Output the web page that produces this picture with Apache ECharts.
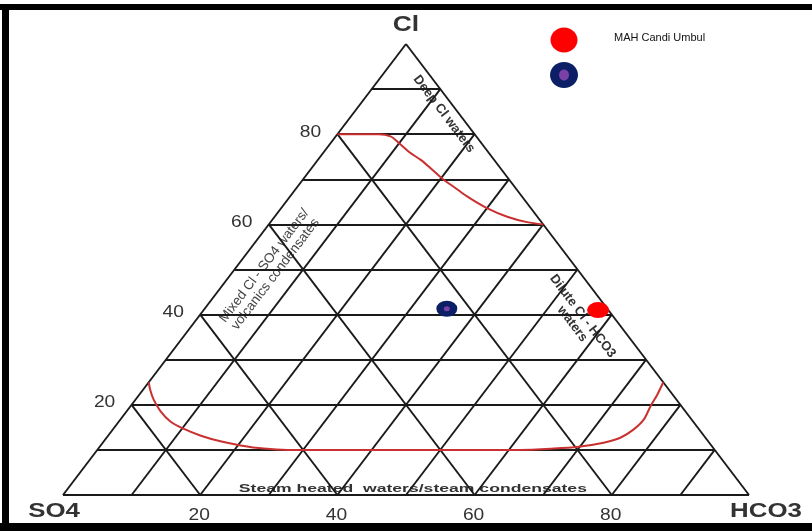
<!DOCTYPE html>
<html>
<head>
<meta charset="utf-8">
<title>Cl - SO4 - HCO3</title>
<style>
  html, body { margin: 0; padding: 0; background: #fff; }
  #main { width: 812px; height: 531px; }
</style>
</head>
<body>
<div id="main"></div>
<script src="https://cdn.jsdelivr.net/npm/echarts@6/dist/echarts.min.js"></script>
<script type="text/javascript">
// ternary grid levels (percent)
var clLevels = [10, 20, 30, 40, 50, 60, 70, 80, 90];
var hco3Levels = [10, 20, 30, 40, 50, 60, 70, 80, 90];
var so4Levels = [20, 40, 60, 80];
var leftTicks = [20, 40, 60, 80];
var baseTicks = [20, 40, 60, 80];

// boundary curves, [Cl, HCO3] in percent (SO4 = rest)
var deepClCurve = [[80, 0], [80, 6], [79.5, 8], [78, 10], [76, 12.5], [74.3, 15], [72.5, 17.3],
  [70, 20.4], [68.4, 22.7], [66.2, 25.8], [63.6, 30], [61.7, 33.9], [60.5, 37.4], [60, 40]];
var steamCurve = [[25, 0], [23.4, 1], [21.2, 2.6], [18.6, 4.9], [16.3, 7.5], [14.7, 10.2],
  [13.2, 13.4], [11.9, 17], [11, 20.4], [10.3, 24.1], [10, 27.7], [10, 30], [10, 40], [10, 50],
  [10, 61.5], [10.3, 66.4], [10.7, 69.8], [11.6, 73], [12.7, 74.9], [14.5, 75.9], [16.7, 76.3],
  [19.7, 75.8], [22.3, 75.5], [25, 75]];

// samples
var sampleNames = ['MAH Candi Umbul', ''];
var sampleCl = [41, 41.3];
var sampleHCO3 = [57.5, 35.3];
var sampleSO4 = [1.5, 23.4];

// ternary -> cartesian (x: HCO3 + Cl/2, y: Cl)
function tern(cl, hco3) {
  return [(hco3 + cl / 2) / 100, cl / 100];
}
function sample(i) {
  var t = sampleCl[i] + sampleHCO3[i] + sampleSO4[i];
  return tern(sampleCl[i] * 100 / t, sampleHCO3[i] * 100 / t);
}

var segs = [];
segs.push({coords: [tern(0, 0), tern(0, 100)]});
segs.push({coords: [tern(0, 0), tern(100, 0)]});
segs.push({coords: [tern(0, 100), tern(100, 0)]});
clLevels.forEach(function (c) { segs.push({coords: [tern(c, 0), tern(c, 100 - c)]}); });
hco3Levels.forEach(function (h) { segs.push({coords: [tern(0, h), tern(100 - h, h)]}); });
so4Levels.forEach(function (s) { segs.push({coords: [tern(0, 100 - s), tern(100 - s, 0)]}); });

var FONT = '"Liberation Sans", Arial, sans-serif';
var myChart = echarts.init(document.getElementById('main'));

var option = {
  animation: false,
  backgroundColor: '#fff',
  grid: {left: 63, right: 63, top: 44, bottom: 36},
  xAxis: {type: 'value', min: 0, max: 1, show: false},
  yAxis: {type: 'value', min: 0, max: 1, show: false},
  series: [
    {
      type: 'lines', coordinateSystem: 'cartesian2d', silent: true,
      lineStyle: {color: '#1a1a1a', width: 1.9, opacity: 1},
      data: segs
    },
    {
      type: 'line', showSymbol: false, smooth: 0.3,
      lineStyle: {color: '#c93131', width: 2},
      data: deepClCurve.map(function (p) { return tern(p[0], p[1]); })
    },
    {
      type: 'line', showSymbol: false, smooth: 0.3,
      lineStyle: {color: '#c93131', width: 2},
      data: steamCurve.map(function (p) { return tern(p[0], p[1]); })
    },
    {
      type: 'scatter', name: sampleNames[0], symbol: 'circle', symbolSize: [22, 16],
      itemStyle: {color: '#ff0000', opacity: 1},
      data: [sample(0)]
    },
    {
      type: 'scatter', name: 'blue', symbol: 'circle', symbolSize: [21, 16],
      itemStyle: {color: '#0c1f66', opacity: 1},
      data: [sample(1)]
    },
    {
      type: 'scatter', name: 'blue-core', symbol: 'circle', symbolSize: [6, 5],
      itemStyle: {color: '#7b3fa8', opacity: 1},
      data: [sample(1)]
    }
  ]
};
myChart.setOption(option);

// texts placed from the axis scale
function at(cl, hco3, dx, dy) {
  var p = myChart.convertToPixel({gridIndex: 0}, tern(cl, hco3));
  return [p[0] + (dx || 0), p[1] + (dy || 0)];
}
function txt(pos, text, font, color, extra) {
  var el = {
    type: 'text', x: pos[0], y: pos[1], silent: true,
    style: {text: text, font: font, fill: color, align: 'center', verticalAlign: 'middle'}
  };
  for (var k in extra) el[k] = extra[k];
  return el;
}

var g = [];
var ang = Math.atan2(451, 343);
g.push(txt(at(100, 0, 0, -19), 'Cl', 'bold 22px ' + FONT, '#333', {scaleX: 1.2}));
g.push(txt(at(0, 0, -9, 16), 'SO4', 'bold 21px ' + FONT, '#333', {scaleX: 1.23}));
g.push(txt(at(0, 100, 17, 16), 'HCO3', 'bold 21px ' + FONT, '#333', {scaleX: 1.23}));
leftTicks.forEach(function (v) {
  g.push(txt(at(v, 0, -27, -2), String(v), '16px ' + FONT, '#333', {scaleX: 1.2}));
});
baseTicks.forEach(function (v) {
  g.push(txt(at(0, v, -1, 21), String(v), '16px ' + FONT, '#333', {scaleX: 1.2}));
});
g.push(txt(at(84.5, 13.3), 'Deep Cl waters', 'bold 13px ' + FONT, '#333', {rotation: -ang}));
g.push(txt(at(38.8, 55.6), 'Dilute Cl - HCO3\nwaters', 'bold 13px ' + FONT, '#333', {rotation: -ang}));
g.push(txt(at(49.9, 5.2), 'Mixed Cl - SO4 waters/\nvolcanics condensates', '13.5px ' + FONT, '#444', {rotation: ang}));
g.push(txt(at(1.4, 50.3), 'Steam heated  waters/steam condensates', 'bold 11.5px ' + FONT, '#333', {scaleX: 1.53}));

// legend
g.push({type: 'ellipse', silent: true, shape: {cx: 564, cy: 40, rx: 13.5, ry: 12.5}, style: {fill: '#ff0000'}});
g.push({type: 'ellipse', silent: true, shape: {cx: 564, cy: 75, rx: 14, ry: 13}, style: {fill: '#0c1f66'}});
g.push({type: 'ellipse', silent: true, shape: {cx: 564, cy: 75, rx: 5, ry: 5.5}, style: {fill: '#7b3fa8'}});
g.push({type: 'text', x: 614, y: 38, silent: true,
  style: {text: sampleNames[0], font: '11px ' + FONT, fill: '#111', align: 'left', verticalAlign: 'middle'}});

// frame
g.push({type: 'rect', silent: true, shape: {x: 0, y: 4, width: 812, height: 6}, style: {fill: '#000'}});
g.push({type: 'rect', silent: true, shape: {x: 2, y: 4, width: 7, height: 527}, style: {fill: '#000'}});
g.push({type: 'rect', silent: true, shape: {x: 0, y: 523, width: 812, height: 8}, style: {fill: '#000'}});

myChart.setOption({graphic: g});
</script>
</body>
</html>
